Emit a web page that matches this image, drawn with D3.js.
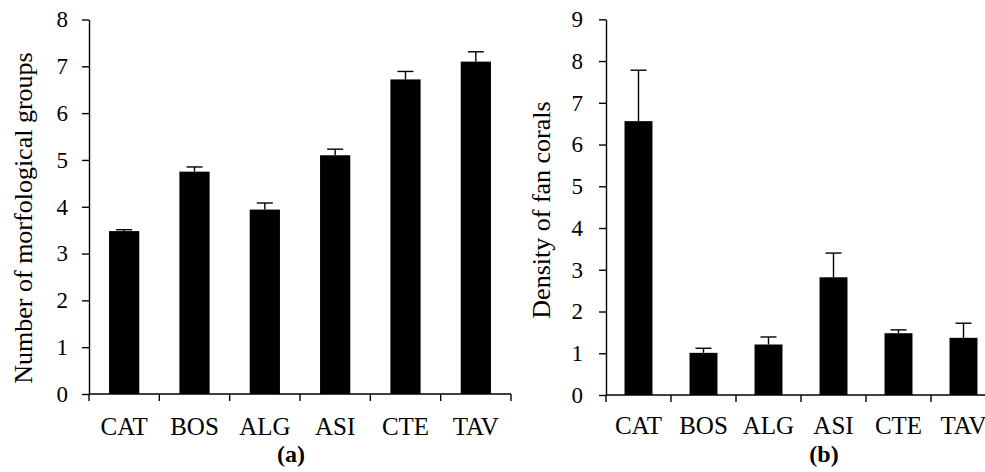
<!DOCTYPE html>
<html>
<head>
<meta charset="utf-8">
<script src="https://cdn.jsdelivr.net/npm/d3@7"></script>
<style>
  html, body { margin: 0; padding: 0; background: #fff; }
  svg { display: block; }
  text { font-family: "Liberation Serif", "Times New Roman", serif; fill: #000; }
</style>
</head>
<body>
<svg id="chart" width="985" height="472"></svg>
<script>
// ---- Data ----
const categories = ["CAT", "BOS", "ALG", "ASI", "CTE", "TAV"];
const groupsMean = [3.48, 4.75, 3.94, 5.10, 6.72, 7.10];
const groupsErr  = [0.03, 0.10, 0.14, 0.13, 0.17, 0.21];
const densityMean = [6.56, 1.01, 1.21, 2.82, 1.48, 1.37];
const densityErr  = [1.22, 0.11, 0.18, 0.58, 0.08, 0.35];
const ticksA = [0, 1, 2, 3, 4, 5, 6, 7, 8];
const ticksB = [0, 1, 2, 3, 4, 5, 6, 7, 8, 9];
const titleA = "Number of morfological groups";
const titleB = "Density of fan corals";
const captionA = "(a)";
const captionB = "(b)";

const svg = d3.select("#chart");
svg.append("rect").attr("width", 985).attr("height", 472).attr("fill", "#fff");

function panel(cfg) {
  const g = svg.append("g");
  const x = d3.scaleBand().domain(categories).range([cfg.x0, cfg.x1]).paddingInner(0).paddingOuter(0);
  const y = d3.scaleLinear().domain([0, cfg.ymax]).range([cfg.yBottom, cfg.yTop]);
  const bw = x.bandwidth() * 0.43;
  const capW = 16;

  // bars
  g.selectAll("rect.bar").data(categories).enter().append("rect")
    .attr("x", d => x(d) + x.bandwidth() / 2 - bw / 2)
    .attr("y", (d, i) => y(cfg.mean[i]))
    .attr("width", bw)
    .attr("height", (d, i) => y(0) - y(cfg.mean[i]))
    .attr("fill", "#000");

  // error bars
  const eb = g.selectAll("g.err").data(categories).enter().append("g");
  eb.append("line")
    .attr("x1", d => x(d) + x.bandwidth() / 2)
    .attr("x2", d => x(d) + x.bandwidth() / 2)
    .attr("y1", (d, i) => y(cfg.mean[i]))
    .attr("y2", (d, i) => y(cfg.mean[i] + cfg.err[i]))
    .attr("stroke", "#000").attr("stroke-width", 1.4);
  eb.append("line")
    .attr("x1", d => x(d) + x.bandwidth() / 2 - capW / 2)
    .attr("x2", d => x(d) + x.bandwidth() / 2 + capW / 2)
    .attr("y1", (d, i) => y(cfg.mean[i] + cfg.err[i]))
    .attr("y2", (d, i) => y(cfg.mean[i] + cfg.err[i]))
    .attr("stroke", "#000").attr("stroke-width", 1.4);

  // y axis
  const ya = g.append("g").attr("transform", `translate(${cfg.x0},0)`)
    .call(d3.axisLeft(y).tickValues(cfg.ticks).tickFormat(d3.format("d")).tickSize(7).tickSizeOuter(0).tickPadding(cfg.tickPad));
  ya.selectAll("path, line").attr("stroke", "#000").attr("stroke-width", 1.4);
  ya.selectAll("text").attr("font-size", 23).attr("fill", "#333");

  // x axis: line with ticks at band boundaries
  const boundaries = categories.map(c => x(c)).concat([cfg.x1]);
  g.append("line").attr("x1", cfg.x0).attr("x2", cfg.x1)
    .attr("y1", y(0)).attr("y2", y(0)).attr("stroke", "#000").attr("stroke-width", 1.4);
  g.selectAll("line.xt").data(boundaries).enter().append("line")
    .attr("x1", d => d).attr("x2", d => d)
    .attr("y1", y(0)).attr("y2", y(0) + 7)
    .attr("stroke", "#000").attr("stroke-width", 1.4);
  g.selectAll("text.xl").data(categories).enter().append("text")
    .attr("x", d => x(d) + x.bandwidth() / 2)
    .attr("y", cfg.labelY)
    .attr("text-anchor", "middle")
    .attr("font-size", 25)
    .attr("fill", "#222")
    .text(d => d);

  // y title
  g.append("text")
    .attr("transform", `translate(${cfg.titleX},${cfg.titleY}) rotate(-90)`)
    .attr("text-anchor", "middle")
    .attr("font-size", 26)
    .attr("fill", "#222")
    .text(cfg.title);

  // caption
  g.append("text")
    .attr("x", cfg.capX).attr("y", 462)
    .attr("text-anchor", "middle")
    .attr("font-size", 24)
    .attr("font-weight", "bold")
    .text(cfg.caption);
}

panel({ x0: 89, x1: 511, yBottom: 394, yTop: 19.5, ymax: 8, ticks: ticksA,
        mean: groupsMean, err: groupsErr, tickPad: 14, labelY: 435,
        title: titleA, titleX: 32, titleY: 218, caption: captionA, capX: 291 });
panel({ x0: 606, x1: 996, yBottom: 395, yTop: 19.3, ymax: 9, ticks: ticksB,
        mean: densityMean, err: densityErr, tickPad: 16, labelY: 434,
        title: titleB, titleX: 550, titleY: 210, caption: captionB, capX: 824 });
</script>
</body>
</html>
